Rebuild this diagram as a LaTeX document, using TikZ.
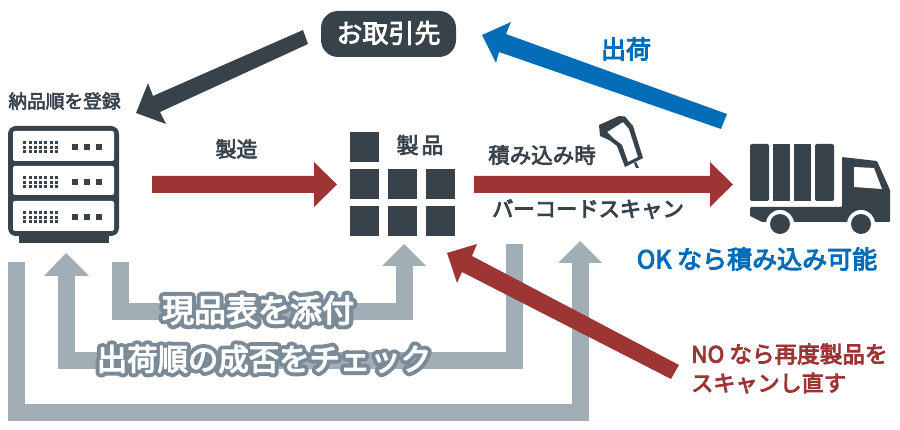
\documentclass[tikz,border=0pt]{standalone}
\usepackage{fontspec}
\setmainfont{Noto Sans CJK JP}
\newfontfamily\medfont[FakeBold=3]{Noto Sans CJK JP}
\newfontfamily\heavyfont[FakeBold=4]{Noto Sans CJK JP}
\newfontfamily\halofont[FakeBold=30]{Noto Sans CJK JP}
\definecolor{dark}{HTML}{37424B}
\definecolor{brick}{HTML}{9D3535}
\definecolor{sky}{HTML}{046DB8}
\definecolor{steel}{HTML}{A2AEB6}
\definecolor{halo}{HTML}{7A8B97}
\tikzset{
  label/.style={inner sep=0pt,font=\medfont\fontsize{#1}{#1}\selectfont,text=dark},
  bluelabel/.style={inner sep=0pt,font=\heavyfont\fontsize{#1}{#1}\selectfont,text=sky},
  redlabel/.style={inner sep=0pt,font=\heavyfont\fontsize{#1}{#1}\selectfont,text=brick},
  darkfill/.style={fill=dark,draw=none},
  brickfill/.style={fill=brick,draw=none},
  route/.style={draw=steel,line width=17pt,line join=miter,line cap=butt},
  headfill/.style={fill=steel,draw=none},
  square/.style={darkfill,minimum width=29pt,minimum height=30pt,inner sep=0pt,outer sep=0pt,anchor=north west},
}
\begin{document}
\begin{tikzpicture}[x=1pt,y=-1pt]
\useasboundingbox (0,0) rectangle (900,430);
% grey routes
\coordinate (r1a) at (120.5,262); \coordinate (r1b) at (120.5,311.5); \coordinate (r1c) at (404,311.5); \coordinate (r1d) at (404,266);
\draw[route] (r1a) -- (r1b) -- (r1c) -- (r1d);
\fill[headfill] (382,266) -- (404,244) -- (426,266) -- cycle;
\coordinate (r2a) at (514.5,244); \coordinate (r2b) at (514.5,360.5); \coordinate (r2c) at (66,360.5); \coordinate (r2d) at (66,276);
\draw[route] (r2a) -- (r2b) -- (r2c) -- (r2d);
\fill[headfill] (44,276) -- (66,253) -- (89,276) -- cycle;
\coordinate (r3a) at (16.5,262); \coordinate (r3b) at (16.5,412.5); \coordinate (r3c) at (580,412.5); \coordinate (r3d) at (580,263);
\draw[route] (r3a) -- (r3b) -- (r3c) -- (r3d);
\fill[headfill] (558,263) -- (580,241) -- (602,263) -- cycle;
% flow arrows
\fill[brickfill] (152,176) -- (314,176) -- (314,162) -- (337,184.5) -- (314,207) -- (314,193) -- (152,193) -- cycle;
\fill[brickfill] (474,176) -- (710,176) -- (710,162) -- (733,184.5) -- (710,207) -- (710,193) -- (474,193) -- cycle;
\fill[brickfill] (679,365) -- (671,379) -- (462,272) -- (457,283) -- (447,253) -- (477,244) -- (472,256) -- cycle;
\fill[fill=sky] (727,114) -- (721,129) -- (499,52) -- (496,63) -- (482,35) -- (511,22) -- (506,34) -- cycle;
\fill[darkfill] (303,30) -- (308,44) -- (160,112) -- (166,124) -- (136,113) -- (148,83) -- (153,96) -- cycle;
% partner
\node[darkfill,rounded corners=17pt,minimum width=135pt,minimum height=46pt,inner sep=0pt] (partner) at (388.5,34) {};
\node[inner sep=0pt,text=white,font=\medfont\fontsize{26}{26}\selectfont] (partnert) at (388.5,33) {お取引先};
% server
\fill[darkfill,rounded corners=8pt] (8,126) rectangle (119,236);
\fill[darkfill] (19,230) rectangle (109,243);
\foreach \yt/\yb in {131/161,166/195,201/231}{
  \fill[white,rounded corners=2pt] (13,\yt) rectangle (114,\yb);
  \foreach \c in {0,...,6}{
    \foreach \r in {0,1,2}{
      \fill[dark] ({23.2+\c*5.3},{\yt+10+\r*4.6}) rectangle +(3,3);
    }
    \relax
  }
  \foreach \sx in {72,84,96}{
    \fill[dark] (\sx,\yt+13) rectangle +(6,6);
  }
}
\node[label=18.7] (regist) at (64.5,101) {納品順を登録};
\node[label=21] (make) at (236.5,149) {製造};
% products
\node[square] (p1) at (350,132) {};
\node[square] (p2) at (350,169) {};
\node[square] (p3) at (388,169) {};
\node[square] (p4) at (426,169) {};
\node[square] (p5) at (350,206.5) {};
\node[square] (p6) at (388,206.5) {};
\node[square] (p7) at (426,206.5) {};
\node[label=22] (prod) at (420,145) {製\hspace{3pt}品};
\node[label=21.5] (load) at (542,155) {積み込み時};
\node[inner sep=0pt,font=\heavyfont\fontsize{21.3}{21.3}\selectfont,text=dark] (scan) at (588,209) {バーコードスキャン};
% scanner
\fill[darkfill,even odd rule] (599,125) -- (619,116) -- (625,116.5) -- (633,126) -- (643,158) -- (625,167) -- (617,146) -- (609,140) -- (600,136) -- cycle
  (607,132) -- (623,122) -- (629,129) -- (638,157) -- (628,162) -- (622,145) -- (613,138) -- cycle;
\fill[darkfill] (634,163) -- (636,162) -- (639,168) -- (636,168) -- cycle;
% truck
\fill[darkfill,rounded corners=2pt] (750,144) rectangle (769,201);
\fill[darkfill] (773,144) rectangle (790,201);
\fill[darkfill] (794,144) rectangle (811,201);
\fill[darkfill,rounded corners=2pt] (815,144) rectangle (834,201);
\fill[darkfill,rounded corners=1pt] (750,207) -- (842,207) -- (842,157) -- (877,161) -- (890,190) -- (890,222) -- (762,222) -- (750,216) -- cycle;
\fill[white] (854,167) -- (874,168) -- (882,189) -- (854,187) -- cycle;
\fill[white] (780,224) circle (14);
\fill[white] (861,224) circle (14);
\fill[white] (760,222.5) rectangle (895,232);
\fill[dark] (780,224) circle (10);
\fill[dark] (861,224) circle (10);
% labels
\node[bluelabel=25] (ship) at (626,49) {出荷};
\node[bluelabel=25] (ok) at (757,259) {OK なら積み込み可能};
\node[redlabel=22.6,anchor=west] (no) at (691,354) {NO なら再度製品を};
\node[redlabel=22.1,anchor=west] (again) at (691,383) {スキャンし直す};
\begin{scope}[line join=round]
\node[inner sep=0pt,text=halo,font=\halofont\fontsize{32}{32}\selectfont] (h1) at (258,310) {現品表を添付};
\node[inner sep=0pt,text=white,font=\heavyfont\fontsize{32}{32}\selectfont] (t1) at (258,310) {現品表を添付};
\node[inner sep=0pt,text=halo,font=\halofont\fontsize{30.4}{30.4}\selectfont] (h2) at (264,359) {出荷順の成否をチェック};
\node[inner sep=0pt,text=white,font=\heavyfont\fontsize{30.4}{30.4}\selectfont] (t2) at (264,359) {出荷順の成否をチェック};
\end{scope}
\end{tikzpicture}
\end{document}
